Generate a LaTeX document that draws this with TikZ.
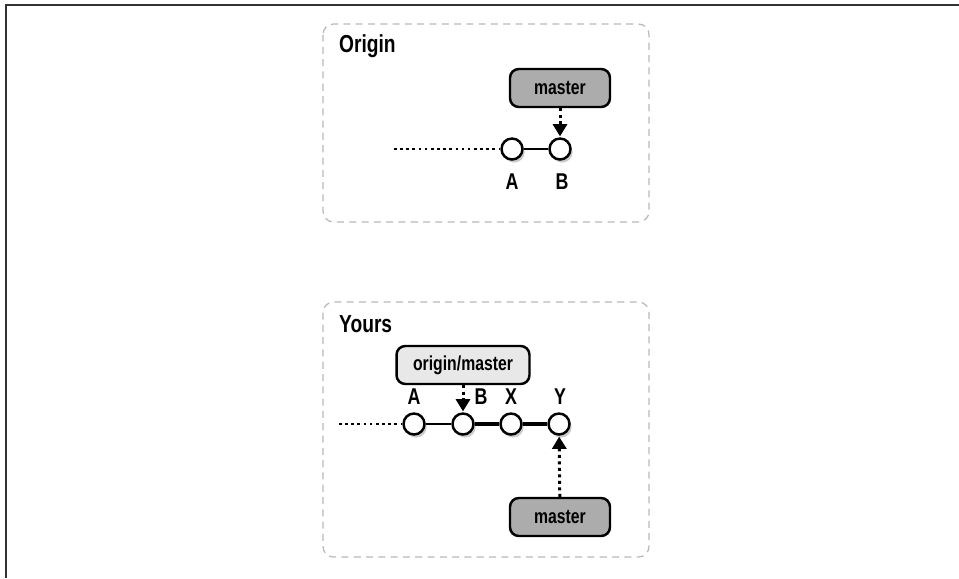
\documentclass[tikz,border=0pt]{standalone}
\usepackage{fontspec}
\setmainfont{Liberation Sans}[FakeStretch=0.78]
\usetikzlibrary{arrows.meta,shadows}

\begin{document}
\begin{tikzpicture}[
  x=0.02cm, y=-0.02cm,
  every node/.style={font=\bfseries},
  panel/.style={draw=gray!55, dashed, dash pattern=on 4pt off 3pt, rounded corners=6pt, line width=0.7pt},
  commit/.style={circle, draw, line width=1.4pt, fill=white, minimum size=0.42cm, inner sep=0pt,
    drop shadow={shadow xshift=1.2pt, shadow yshift=-1.8pt, opacity=0.4}},
  ref/.style={draw, rounded corners=5pt, line width=1.4pt, minimum height=0.76cm, font=\bfseries\fontsize{11.5}{13}\selectfont},
  tag/.style={font=\bfseries\fontsize{13}{15}\selectfont},
  title/.style={font=\bfseries\fontsize{14}{16}\selectfont, anchor=west},
  arrow/.style={-{Triangle[length=7pt,width=8pt]}, dotted, line width=1.7pt, shorten >=0.5pt},
  link/.style={line width=1.1pt},
  tail/.style={dotted, line width=1.5pt}
]
\useasboundingbox (0,0) rectangle (959,578);
\draw[line width=1.1pt, black!80] (6,578) -- (6,5) -- (959,5);

% origin repository
\draw[panel] (323,24) rectangle (649,222);
\node[title] (origin) at (333,46) {Origin};
\node[commit] (oa) at (512,149) {};
\node[commit] (ob) at (560,149) {};
\coordinate (otail) at (394,149);
\node[tag] (la) at (512,182) {A};
\node[tag] (lb) at (562,182) {B};
\node[ref, fill=gray!65, minimum width=2cm] (omaster) at (560,88) {master};
\draw[tail] (otail) -- (oa);
\draw[link] (oa) -- (ob);
\draw[arrow] (omaster) -- (ob);

% your repository
\draw[panel] (323,302) rectangle (649,557);
\node[title] (yours) at (333,324) {Yours};
\node[commit] (ya) at (414,424) {};
\node[commit] (yb) at (463,424) {};
\node[commit] (yx) at (511,424) {};
\node[commit] (yy) at (559,424) {};
\coordinate (ytail) at (339,424);
\node[tag] (lya) at (414,397) {A};
\node[tag] (lyb) at (481,397) {B};
\node[tag] (lyx) at (511,397) {X};
\node[tag] (lyy) at (560,397) {Y};
\node[ref, fill=gray!18, minimum width=2.66cm] (omirror) at (463,365) {origin/master};
\node[ref, fill=gray!65, minimum width=2cm] (ymaster) at (560,517) {master};
\draw[tail] (ytail) -- (ya);
\draw[link] (ya) -- (yb);
\draw[link, line width=1.8pt] (yb) -- (yx);
\draw[link, line width=1.8pt] (yx) -- (yy);
\draw[arrow] (omirror) -- (yb);
\draw[arrow] (ymaster) -- (yy);
\end{tikzpicture}
\end{document}
